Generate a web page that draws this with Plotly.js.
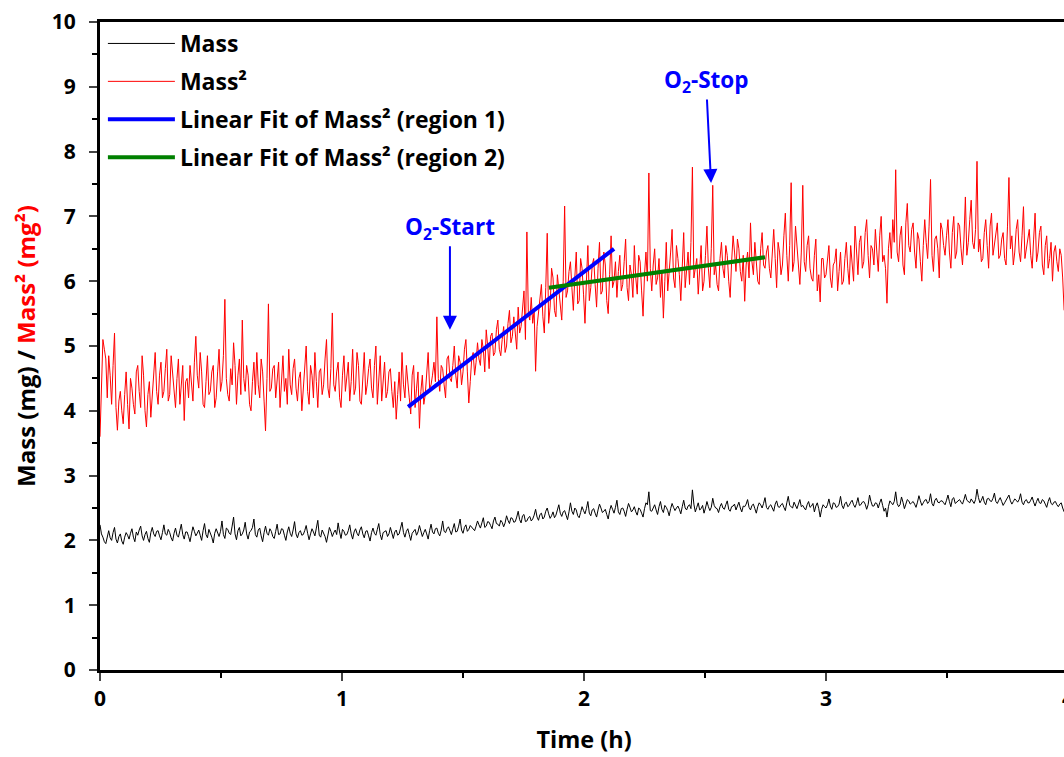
<!DOCTYPE html>
<html>
<head>
<meta charset="utf-8">
<script src="https://cdn.plot.ly/plotly-3.0.1.min.js"></script>
<style>
html,body{margin:0;padding:0;overflow:hidden;background:#fff;}
#chart{width:1100px;height:757px;}
</style>
</head>
<body>
<div id="chart"></div>
<script>
// sampling of the recorded time axis (h)
const timeStart = 0;
const timeStep = 0.006;

// Mass² (mg²) readings
const massSq = [
3.60,4.40,5.10,4.95,4.80,4.20,4.85,4.55,4.10,4.70,5.20,4.05,3.70,4.15,4.30,4.00,3.80,4.25,4.60,4.10,
3.72,4.50,4.35,4.10,3.95,4.60,4.70,4.30,4.05,4.85,4.55,4.00,3.75,4.25,4.45,3.90,4.20,4.65,4.90,4.30,
4.10,4.55,4.75,4.20,4.30,4.65,4.95,4.15,4.25,4.85,4.60,4.35,4.05,4.50,4.80,4.10,4.40,4.70,3.85,4.45,
4.50,4.20,4.70,4.40,4.15,4.75,5.15,4.55,4.35,4.90,4.60,4.10,4.05,4.45,4.85,4.25,4.30,4.60,4.70,4.05,
4.20,4.60,4.95,4.30,4.45,4.85,5.72,4.50,4.25,4.15,4.65,4.40,5.05,4.70,4.10,4.55,4.80,4.25,5.40,4.50,
4.30,4.70,4.55,4.10,4.00,4.45,4.75,4.25,4.90,4.40,4.20,4.80,4.60,4.15,3.69,4.50,5.65,4.30,4.35,4.65,
4.70,4.20,4.45,4.75,4.05,4.55,4.85,4.30,4.50,4.10,4.95,4.40,4.25,4.65,4.80,4.35,4.15,4.50,4.60,4.00,
4.35,4.55,5.00,4.30,4.10,4.70,4.55,4.20,4.90,4.45,4.05,4.60,4.65,4.25,4.40,4.80,5.10,4.35,4.20,4.65,
5.51,4.40,4.30,4.60,4.75,4.20,4.05,4.55,4.85,4.30,4.50,4.75,4.15,4.45,4.95,4.25,4.35,4.90,4.70,4.15,
4.10,4.55,4.90,4.25,4.40,4.65,4.80,4.35,4.20,4.70,5.00,4.10,4.45,4.85,4.15,4.50,4.75,4.20,4.30,4.60,
4.65,4.30,4.05,4.45,3.87,4.25,4.60,4.15,4.90,4.40,4.20,4.70,4.50,4.20,3.95,4.55,4.70,4.05,4.35,4.60,
3.73,4.30,4.55,4.10,4.25,4.60,4.90,4.35,4.40,4.55,4.75,4.45,5.45,4.50,4.30,4.70,4.65,4.40,4.20,4.80,
4.85,4.50,4.45,4.70,5.00,4.55,4.35,4.85,4.75,4.40,4.60,4.95,5.10,4.60,4.12,4.45,4.80,4.90,4.55,4.75,
5.05,4.80,4.70,5.10,4.95,4.60,5.25,5.00,4.65,5.15,5.20,4.85,4.90,5.25,5.40,4.95,4.85,5.10,5.30,4.90,
5.00,5.35,5.55,5.05,5.15,5.45,5.25,4.95,5.60,5.20,5.30,5.65,5.85,5.10,6.76,5.50,5.40,5.75,5.35,5.55,
4.61,5.30,5.50,5.80,5.95,5.45,5.20,5.90,6.74,5.35,5.60,6.20,6.05,5.55,5.45,6.10,5.90,5.65,5.40,6.00,
7.16,5.75,5.85,6.15,6.30,5.90,5.55,6.05,6.45,5.65,5.70,6.35,6.20,5.80,5.35,6.00,6.55,5.70,5.90,6.25,
6.35,5.95,5.60,6.20,6.60,5.80,5.85,6.45,6.25,5.70,5.50,6.10,6.70,5.90,6.00,6.30,5.75,6.15,6.40,5.85,
5.95,6.30,6.65,5.90,5.70,6.25,6.10,5.75,6.55,6.05,5.80,6.40,6.30,5.85,5.46,6.10,6.45,6.00,7.67,6.20,
5.85,6.25,6.50,5.95,6.05,6.35,5.75,6.15,5.43,6.00,6.60,5.85,6.10,6.45,6.80,6.05,5.90,6.55,6.35,6.10,
5.70,6.30,6.75,5.90,6.15,6.45,5.95,6.60,7.76,6.05,6.20,6.35,5.80,6.15,6.55,5.85,6.00,6.40,6.85,6.20,
5.90,6.50,7.48,6.10,6.25,5.95,5.85,6.35,6.60,6.20,6.05,6.55,6.40,6.00,5.75,6.30,6.70,6.45,6.15,6.65,
6.50,6.15,6.00,6.40,5.69,6.25,6.45,6.05,6.90,6.30,6.10,6.60,6.35,6.00,5.95,6.50,6.75,6.25,6.20,6.45,
6.55,6.20,6.05,6.50,6.80,6.35,5.90,6.60,6.45,6.10,6.25,6.70,7.05,6.40,6.00,6.55,7.52,6.15,6.30,6.85,
6.60,6.25,5.95,6.45,7.48,6.30,6.15,6.55,6.70,6.20,6.05,6.00,6.40,6.65,5.85,6.10,5.68,6.35,6.35,6.05,
6.10,6.40,6.55,6.05,5.90,6.25,6.30,6.50,5.85,6.15,6.45,5.95,6.00,6.35,6.60,6.20,5.95,6.55,6.25,6.00,
6.85,6.35,6.10,6.60,6.70,6.20,6.30,6.75,6.95,6.40,6.05,6.55,6.50,6.25,6.80,6.45,6.15,6.70,7.00,6.30,
6.40,6.20,5.66,6.50,6.75,6.35,6.95,6.60,7.72,6.45,6.30,6.70,6.85,6.25,6.10,6.90,7.20,6.55,6.45,6.80,
6.90,6.45,6.20,6.75,6.65,6.30,6.00,6.55,6.95,6.60,6.35,6.85,7.57,6.40,6.15,6.65,6.70,6.50,6.05,6.90,
6.80,6.55,6.40,6.70,6.95,6.45,6.20,6.75,7.00,6.35,6.45,6.90,6.85,6.50,6.25,6.65,7.30,6.40,6.60,6.95,
7.25,6.60,6.50,6.80,7.85,6.45,6.65,6.30,6.35,6.75,6.95,6.55,6.20,6.85,7.05,6.40,6.55,6.70,6.90,6.35,
6.40,6.65,6.75,6.35,6.25,6.85,7.60,6.50,6.70,6.25,6.45,6.80,6.95,6.45,6.30,6.70,7.15,6.35,6.50,6.60,
6.80,6.40,6.20,6.65,7.05,6.30,6.45,6.75,6.85,6.25,6.10,6.55,6.70,6.20,6.35,6.60,6.00,6.45,6.55,6.30,
6.15,6.50,6.40,6.05,5.55
];

// Mass (mg) readings
const mass = [
2.24,2.10,2.05,1.98,1.95,2.08,2.15,2.04,2.00,2.12,2.20,2.02,1.96,2.06,2.10,1.99,1.94,2.05,2.12,2.08,
2.02,2.11,2.18,2.05,1.98,2.13,2.08,2.16,2.22,2.07,2.00,2.09,2.14,2.03,1.97,2.12,2.20,2.10,2.06,2.14,
2.15,2.07,2.01,2.12,2.24,2.10,2.08,2.17,2.12,2.04,1.99,2.11,2.19,2.08,2.05,2.15,2.25,2.09,2.02,2.13,
2.13,2.06,1.98,2.10,2.21,2.14,2.07,2.11,2.16,2.08,2.00,2.15,2.26,2.09,2.04,2.17,2.12,2.05,1.96,2.11,
2.18,2.12,2.06,2.14,2.30,2.09,2.03,2.19,2.17,2.11,2.09,2.22,2.36,2.10,2.01,2.15,2.20,2.07,2.10,2.16,
2.28,2.10,2.02,2.13,2.15,2.20,2.33,2.09,2.05,2.16,2.19,2.07,1.98,2.12,2.22,2.11,2.08,2.18,2.14,2.06,
2.03,2.14,2.25,2.09,2.10,2.18,2.17,2.08,2.00,2.13,2.21,2.11,2.06,2.16,2.29,2.10,2.04,2.12,2.15,2.08,
2.09,2.15,2.23,2.11,2.01,2.10,2.18,2.13,2.07,2.19,2.31,2.08,2.05,2.16,2.12,2.06,1.97,2.11,2.20,2.14,
2.06,2.12,2.16,2.09,2.27,2.13,2.03,2.17,2.14,2.08,2.09,2.15,2.24,2.10,2.02,2.13,2.18,2.11,2.07,2.16,
2.21,2.10,2.04,2.14,2.15,2.07,1.99,2.12,2.19,2.11,2.08,2.17,2.26,2.09,2.01,2.12,2.13,2.15,2.06,2.10,
2.20,2.11,2.03,2.13,2.16,2.08,2.10,2.19,2.28,2.12,2.05,2.14,2.18,2.09,2.00,2.11,2.14,2.17,2.08,2.13,
2.23,2.14,2.06,2.12,2.17,2.10,2.02,2.15,2.25,2.13,2.10,2.18,2.19,2.11,2.07,2.16,2.30,2.14,2.12,2.18,
2.21,2.15,2.09,2.18,2.26,2.13,2.14,2.22,2.33,2.16,2.11,2.20,2.24,2.14,2.17,2.23,2.20,2.18,2.15,2.22,
2.30,2.24,2.19,2.27,2.35,2.20,2.22,2.29,2.28,2.23,2.18,2.30,2.36,2.26,2.25,2.22,2.31,2.28,2.21,2.27,
2.38,2.31,2.26,2.35,2.34,2.28,2.29,2.36,2.45,2.32,2.27,2.38,2.40,2.29,2.30,2.35,2.37,2.30,2.33,2.39,
2.48,2.36,2.31,2.40,2.42,2.33,2.36,2.45,2.50,2.41,2.34,2.38,2.44,2.35,2.39,2.47,2.55,2.42,2.37,2.44,
2.46,2.39,2.32,2.44,2.58,2.45,2.40,2.50,2.47,2.38,2.35,2.43,2.52,2.46,2.41,2.49,2.60,2.42,2.38,2.47,
2.49,2.42,2.36,2.47,2.56,2.50,2.43,2.45,2.48,2.40,2.33,2.46,2.54,2.48,2.42,2.51,2.62,2.44,2.40,2.49,
2.50,2.45,2.37,2.48,2.57,2.51,2.44,2.47,2.52,2.44,2.39,2.50,2.48,2.42,2.36,2.49,2.58,2.55,2.75,2.46,
2.45,2.50,2.55,2.47,2.40,2.52,2.60,2.48,2.43,2.54,2.51,2.46,2.38,2.49,2.57,2.51,2.46,2.50,2.53,2.48,
2.41,2.52,2.62,2.50,2.47,2.53,2.55,2.49,2.78,2.56,2.44,2.51,2.58,2.47,2.49,2.54,2.42,2.50,2.60,2.52,
2.46,2.51,2.65,2.54,2.50,2.49,2.43,2.52,2.57,2.50,2.48,2.55,2.61,2.48,2.45,2.52,2.53,2.56,2.47,2.53,
2.59,2.50,2.44,2.53,2.52,2.56,2.63,2.51,2.47,2.54,2.56,2.49,2.42,2.52,2.58,2.55,2.50,2.57,2.66,2.51,
2.48,2.53,2.55,2.50,2.45,2.56,2.61,2.52,2.51,2.55,2.57,2.51,2.46,2.58,2.68,2.54,2.52,2.50,2.59,2.55,
2.49,2.56,2.63,2.52,2.54,2.50,2.47,2.55,2.60,2.51,2.53,2.57,2.44,2.53,2.58,2.49,2.36,2.48,2.55,2.52,
2.50,2.55,2.64,2.53,2.48,2.58,2.57,2.51,2.52,2.56,2.68,2.54,2.49,2.57,2.59,2.52,2.54,2.59,2.62,2.55,
2.51,2.57,2.66,2.54,2.55,2.59,2.60,2.56,2.48,2.55,2.70,2.60,2.53,2.53,2.58,2.57,2.50,2.58,2.64,2.54,
2.45,2.50,2.36,2.52,2.61,2.58,2.55,2.60,2.75,2.57,2.52,2.55,2.67,2.59,2.49,2.56,2.63,2.61,2.56,2.58,
2.60,2.56,2.51,2.59,2.69,2.61,2.54,2.58,2.62,2.63,2.57,2.60,2.72,2.57,2.53,2.62,2.65,2.59,2.58,2.61,
2.61,2.58,2.55,2.62,2.70,2.60,2.52,2.64,2.66,2.57,2.59,2.61,2.63,2.59,2.56,2.63,2.71,2.62,2.60,2.58,
2.64,2.61,2.57,2.63,2.79,2.66,2.58,2.62,2.68,2.59,2.55,2.64,2.65,2.61,2.60,2.65,2.73,2.60,2.57,2.62,
2.66,2.60,2.54,2.58,2.62,2.65,2.70,2.61,2.56,2.60,2.64,2.62,2.59,2.63,2.72,2.59,2.55,2.61,2.63,2.58,
2.58,2.62,2.67,2.59,2.53,2.60,2.65,2.58,2.57,2.63,2.61,2.56,2.51,2.60,2.66,2.57,2.55,2.59,2.60,2.55,
2.52,2.56,2.58,2.50,2.44
];

// Linear fit end points (time h, Mass² mg²)
const fit1Time = [1.273, 2.124];
const fit1Val  = [4.06, 6.50];
const fit2Time = [1.855, 2.748];
const fit2Val  = [5.90, 6.37];

// Event markers
const eventLabels = ['O<sub>2</sub>-Start', 'O<sub>2</sub>-Stop'];
const eventTime   = [1.446, 2.525];
const eventVal    = [5.25, 7.515];

const xTickVals = [0,1,2,3,4];
const yTickVals = [0,1,2,3,4,5,6,7,8,9,10];

const time = massSq.map((_, i) => +(timeStart + i * timeStep).toFixed(4));

const FONT = '"Open Sans", Lato, sans-serif';

const traces = [
  {x: time, y: mass, type:'scatter', mode:'lines', name:'Mass',
   line:{color:'#000000', width:1}, legendgroup:'a'},
  {x: time, y: massSq, type:'scatter', mode:'lines', name:'Mass²',
   line:{color:'#ff0000', width:1}, legendgroup:'b'},
  {x: fit1Time, y: fit1Val, type:'scatter', mode:'lines', name:'Linear Fit of Mass² (region 1)',
   line:{color:'#0000ff', width:4}, legendgroup:'c'},
  {x: fit2Time, y: fit2Val, type:'scatter', mode:'lines', name:'Linear Fit of Mass² (region 2)',
   line:{color:'#008000', width:4}, legendgroup:'d'}
];

const annotations = eventLabels.map((t, k) => ({
  x: eventTime[k], y: eventVal[k], xref:'x', yref:'y',
  text: t, showarrow:true, arrowhead:2, arrowsize:1.4, arrowwidth:2,
  arrowcolor:'#0000ff', ax: k === 0 ? 0 : -5, ay: -102,
  font:{family:FONT, size:22.5, color:'#0000ff', weight:'bold'}
}));

const layout = {
  width:1100, height:757,
  margin:{l:100, r:32, t:22, b:87},
  paper_bgcolor:'#ffffff', plot_bgcolor:'#ffffff',
  showlegend:true,
  legend:{x:0.003, y:1, xanchor:'left', yanchor:'top', bgcolor:'rgba(0,0,0,0)',
          font:{family:FONT, size:23, color:'#000', weight:'bold'},
          tracegroupgap:5, itemwidth:67},
  xaxis:{range:[0,4], tickvals:xTickVals, ticks:'outside', ticklen:8, tickwidth:2,
         showline:true, linewidth:3, linecolor:'#000', mirror:true, showgrid:false, zeroline:false,
         minor:{dtick:0.5, ticks:'outside', ticklen:5, tickwidth:2, tickcolor:'#000'},
         tickfont:{family:FONT, size:21, color:'#000', weight:'bold'},
         title:{text:'Time (h)', standoff:21, font:{family:FONT, size:23.5, color:'#000', weight:'bold'}}},
  yaxis:{range:[0,10], tickvals:yTickVals, ticks:'outside', ticklen:8, tickwidth:2,
         ticklabelstandoff:9,
         showline:true, linewidth:3, linecolor:'#000', mirror:true, showgrid:false, zeroline:false,
         minor:{dtick:0.5, ticks:'outside', ticklen:5, tickwidth:2, tickcolor:'#000'},
         tickfont:{family:FONT, size:21, color:'#000', weight:'bold'},
         title:{text:'Mass (mg) / <span style="color:#ff0000">Mass² (mg²)</span>', standoff:10,
                font:{family:FONT, size:24, color:'#000', weight:'bold'}}},
  annotations: annotations
};

Plotly.newPlot('chart', traces, layout, {displayModeBar:false, staticPlot:true});
</script>
</body>
</html>
